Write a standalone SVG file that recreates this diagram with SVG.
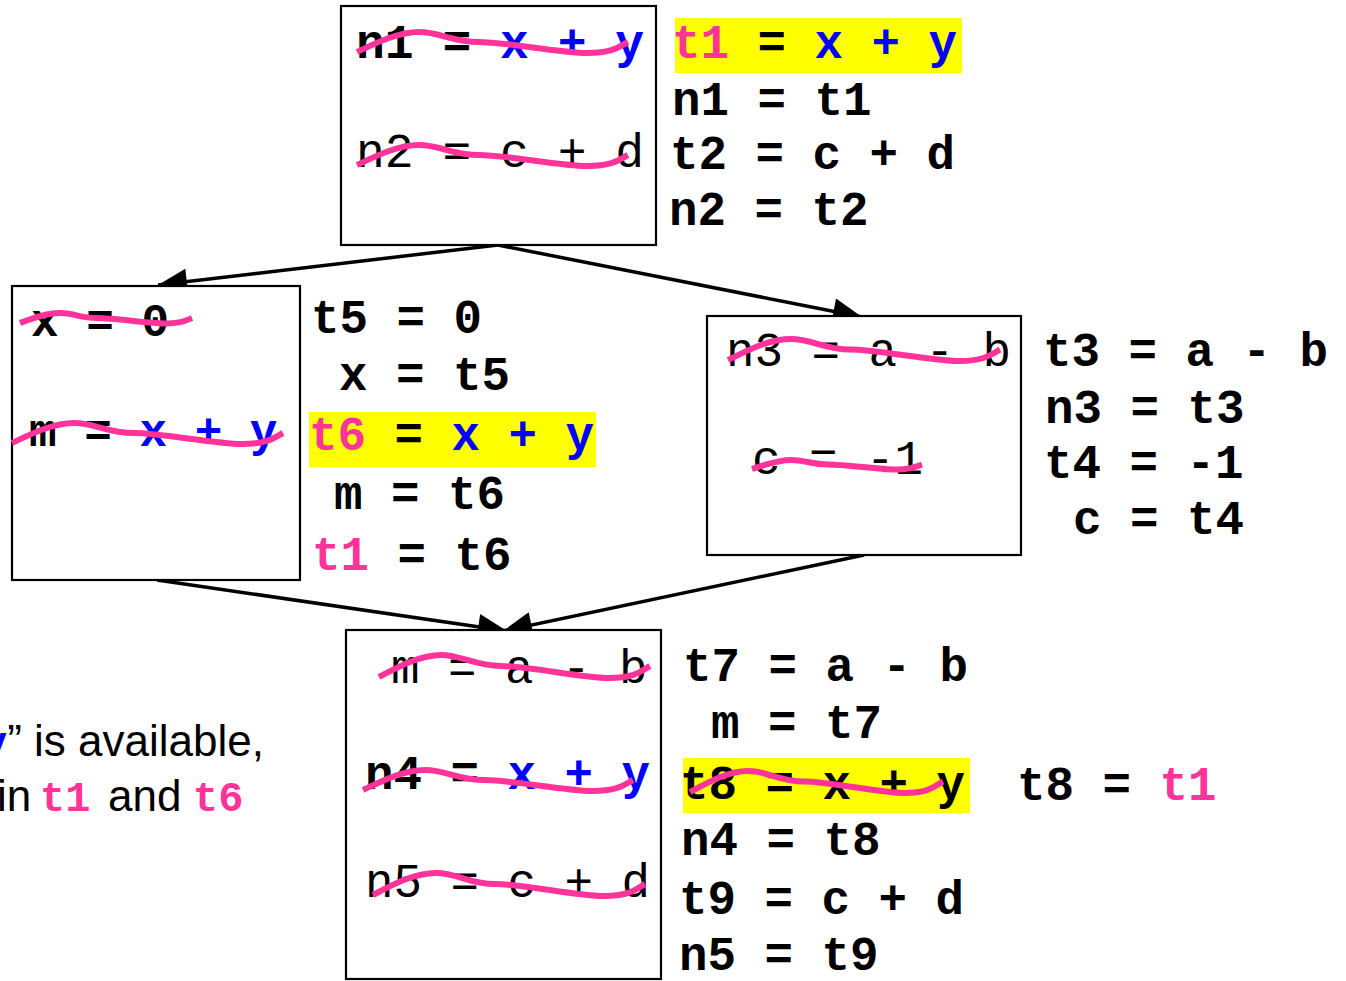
<svg xmlns="http://www.w3.org/2000/svg" width="1346" height="981" viewBox="0 0 1346 981">
<style>
.box{fill:#fff;stroke:#000;stroke-width:2.2}
.m{font-family:"Liberation Mono","Courier New",monospace;font-size:47.5px;font-weight:bold;fill:#000}
.r{font-weight:normal}
.b{fill:#0000ff}
.p{fill:#ff3399}
.hl{fill:#ffff00}
.s{font-family:"Liberation Sans",Arial,sans-serif;font-size:44px;fill:#000}
.edge{stroke:#000;stroke-width:3.5;fill:none;marker-end:url(#ah)}
.w{fill:none;stroke:#ff3399;stroke-width:6}
</style>
<defs>
<marker id="ah" markerUnits="userSpaceOnUse" markerWidth="32" markerHeight="28" refX="29" refY="13" orient="auto" overflow="visible">
<path d="M0,0 L29,13 L0,26 Z" fill="#000"/>
</marker>
</defs>
<rect width="1346" height="981" fill="#fff"/>

<g id="connectors">
<line class="edge" x1="498" y1="245" x2="158" y2="285"/>
<line class="edge" x1="498" y1="245" x2="862" y2="317"/>
<line class="edge" x1="157" y1="580" x2="507" y2="631"/>
<line class="edge" x1="864" y1="555" x2="503" y2="631"/>
</g>

<g id="node-top">
<rect class="box" x="341" y="6" width="315" height="239"/>
<text class="m" x="356" y="58" style="font-size:48px">n1 = <tspan class="b">x + y</tspan></text>
<text class="m r" x="356" y="167" style="font-size:48px">n2 = c + d</text>
<path class="w" d="M357,52 C376,43 398,32 419,32 S452,42 479,42 S560,53 587,53 S620,46 628,42"/>
<path class="w" d="M357,165 C376,156 398,145 419,145 S452,155 479,155 S560,166 587,166 S620,159 628,155"/>
</g>
<g id="code-top">
<rect class="hl" x="675" y="18" width="287" height="55"/>
<text class="m" x="672" y="58"><tspan class="p">t1</tspan> = <tspan class="b">x + y</tspan></text>
<text class="m" x="672" y="115">n1 = t1</text>
<text class="m" x="670" y="169">t2 = c + d</text>
<text class="m" x="669" y="225">n2 = t2</text>
</g>

<g id="node-left">
<rect class="box" x="12" y="286" width="288" height="294"/>
<text class="m" x="31" y="336" style="font-size:46px">x = 0</text>
<text class="m" x="29" y="446" style="font-size:46px">m = <tspan class="b">x + y</tspan></text>
<path class="w" d="M20,323 C32,318.5 46,313 60,313 S80,318 97,318 S149,323.5 166,323.5 S187,320 192,318"/>
<path class="w" d="M12,443 C31,434 53,423 74,423 S107,433 134,433 S215,444 242,444 S275,437 283,433"/>
</g>
<g id="code-left">
<rect class="hl" x="309" y="412" width="287" height="55"/>
<text class="m" x="311" y="333">t5 = 0</text>
<text class="m" x="339" y="390">x = t5</text>
<text class="m" x="309" y="450"><tspan class="p">t6</tspan> = <tspan class="b">x + y</tspan></text>
<text class="m" x="334" y="509">m = t6</text>
<text class="m" x="312" y="570"><tspan class="p">t1</tspan> = t6</text>
</g>

<g id="node-right">
<rect class="box" x="707" y="316" width="314" height="239"/>
<text class="m r" x="726" y="366">n3 = a - b</text>
<text class="m r" x="752" y="474">c = -1</text>
<path class="w" d="M728,360 C747,350.5 769,339 791,339 S823,349.5 850,349.5 S932,361 959,361 S992,353.7 1000,349.5"/>
<path class="w" d="M752,469 C764,465 777.5,460 791,460 S811.5,464.5 828.5,464.5 S879.5,469.5 896.5,469.5 S917,466.3 922,464.5"/>
</g>
<g id="code-right">
<text class="m" x="1043" y="366">t3 = a - b</text>
<text class="m" x="1045" y="423">n3 = t3</text>
<text class="m" x="1044" y="478">t4 = -1</text>
<text class="m" x="1073" y="534">c = t4</text>
</g>

<g id="node-bottom">
<rect class="box" x="346" y="630" width="315" height="349"/>
<text class="m r" x="391" y="683">m = a - b</text>
<text class="m" x="365" y="789">n4 = <tspan class="b">x + y</tspan></text>
<text class="m r" x="365" y="897">n5 = c + d</text>
<path class="w" d="M379,677 C398,667 420,655 441,655 S474,666 501,666 S582,678 609,678 S642,670.4 650,666"/>
<path class="w" d="M363,790 C382,781 403.5,770 425,770 S457.5,780 484.5,780 S565.5,791 592.5,791 S625,784 633,780"/>
<path class="w" d="M373,895 C392,885 414,873 436,873 S468,884 495,884 S577,896 604,896 S637,888.4 645,884"/>
</g>
<g id="code-bottom">
<rect class="hl" x="683" y="758" width="287" height="55"/>
<text class="m" x="683" y="681">t7 = a - b</text>
<text class="m" x="711" y="738">m = t7</text>
<text class="m" x="680" y="799">t8 = x + y</text>
<path class="w" d="M690,792 C708,782.5 728,771 748,771 S779,781.5 804,781.5 S880,793 905,793 S935,785.7 943,781.5"/>
<text class="m" x="1017" y="800">t8 = <tspan class="p">t1</tspan></text>
<text class="m" x="681" y="855">n4 = t8</text>
<text class="m" x="679" y="914">t9 = c + d</text>
<text class="m" x="679" y="970">n5 = t9</text>
</g>

<g id="note">
<text x="-18" y="756"><tspan class="m b" style="font-size:42px">y</tspan><tspan class="s">” is available,</tspan></text>
<text class="s" x="-3" y="811">in</text>
<text class="m p" x="40" y="811" style="font-size:42px">t1</text>
<text class="s" x="108" y="811">and</text>
<text class="m p" x="193" y="811" style="font-size:42px">t6</text>
</g>
</svg>
